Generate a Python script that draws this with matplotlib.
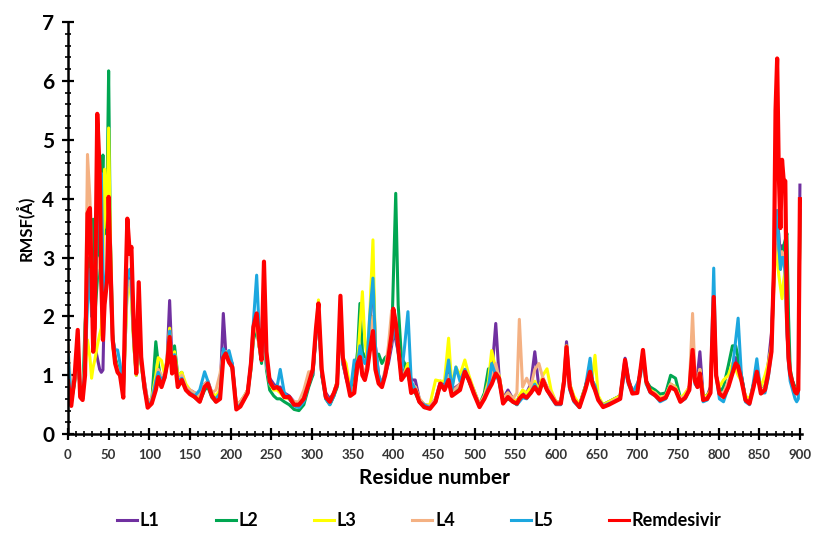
import matplotlib
matplotlib.use("Agg")
import matplotlib.pyplot as plt
from matplotlib.ticker import MultipleLocator

residues = [
    0, 4, 8, 12, 15, 18, 21, 24, 27, 29,
    31, 33, 36, 39, 41, 43, 45, 48, 50, 52,
    55, 58, 61, 64, 68, 71, 73, 76, 78, 81,
    84, 87, 90, 94, 98, 103, 108, 111, 115, 119,
    122, 125, 128, 131, 135, 140, 145, 150, 156, 162,
    168, 172, 177, 182, 187, 191, 194, 198, 202, 207,
    212, 217, 221, 225, 228, 232, 235, 238, 241, 244,
    248, 253, 257, 261, 266, 272, 278, 284, 290, 296,
    301, 305, 308, 312, 317, 322, 327, 331, 335, 338,
    342, 347, 352, 356, 359, 362, 365, 368, 371, 375,
    378, 382, 386, 390, 394, 398, 400, 403, 406, 410,
    414, 418, 422, 427, 432, 438, 445, 452, 458, 463,
    468, 472, 477, 482, 488, 493, 499, 506, 512, 517,
    521, 526, 530, 535, 541, 547, 552, 555, 559, 564,
    569, 574, 579, 584, 589, 594, 600, 606, 610, 613,
    617, 622, 629, 636, 642, 645, 648, 652, 658, 665,
    672, 679, 685, 689, 694, 700, 704, 707, 711, 716,
    722, 728, 735, 741, 747, 753, 759, 764, 768, 771,
    774, 777, 781, 786, 790, 794, 797, 801, 806, 812,
    817, 821, 824, 828, 833, 838, 843, 847, 852, 857,
    861, 865, 868, 870, 872, 874, 876, 878, 880, 882,
    884, 886, 888, 891, 894, 896, 898, 900,
]

L1 = [
    1.2, 0.6, 0.9, 1.5, 0.7, 0.65, 1.1, 2.8, 3.0, 2.2,
    2.9, 1.5, 1.3, 1.1, 1.05, 1.09, 2.4, 2.7, 3.0, 2.6,
    1.5, 1.3, 1.1, 1.05, 0.8, 2.0, 2.7, 2.6, 2.5, 1.6,
    1.1, 1.8, 1.2, 0.9, 0.55, 0.6, 0.85, 1.0, 0.9, 1.0,
    1.3, 2.27, 1.2, 1.37, 0.95, 1.0, 0.8, 0.75, 0.7, 0.65,
    0.85, 0.9, 0.7, 0.62, 0.7, 2.05, 1.4, 1.3, 1.2, 0.5,
    0.55, 0.65, 0.75, 1.2, 1.7, 2.0, 1.5, 1.3, 2.0, 1.2,
    0.95, 0.85, 0.8, 0.8, 0.7, 0.65, 0.55, 0.5, 0.65, 0.9,
    1.0, 1.7, 2.1, 1.0, 0.7, 0.6, 0.7, 0.9, 2.1, 1.2,
    0.95, 0.7, 0.75, 1.1, 1.4, 1.1, 1.0, 1.2, 1.8, 2.75,
    1.5, 1.0, 0.85, 1.0, 1.2, 1.5, 1.7, 1.6, 1.4, 1.0,
    1.1, 1.2, 0.92, 0.92, 0.6, 0.5, 0.48, 0.6, 0.9, 0.8,
    1.2, 0.75, 0.8, 0.85, 1.1, 0.95, 0.75, 0.5, 0.65, 0.85,
    1.0, 1.88, 1.0, 0.6, 0.75, 0.6, 0.55, 0.65, 0.7, 0.7,
    0.85, 1.40, 0.8, 0.95, 0.8, 0.7, 0.55, 0.55, 0.95, 1.57,
    0.85, 0.62, 0.5, 0.8, 1.1, 0.9, 0.8, 0.6, 0.5, 0.55,
    0.6, 0.65, 1.29, 0.95, 0.72, 0.75, 1.1, 1.35, 0.9, 0.75,
    0.72, 0.6, 0.65, 0.85, 0.8, 0.6, 0.65, 0.8, 1.3, 0.95,
    1.0, 1.40, 0.65, 0.65, 0.8, 2.2, 1.0, 0.75, 0.65, 0.85,
    1.1, 1.3, 1.2, 1.0, 0.62, 0.55, 0.85, 1.1, 0.75, 0.8,
    1.2, 1.71, 2.8, 3.5, 3.6, 3.4, 3.0, 3.2, 3.1, 2.8,
    1.8, 1.2, 1.0, 0.9, 0.75, 0.7, 0.8, 4.23,
]

L2 = [
    1.0, 0.55, 0.85, 1.4, 0.7, 0.6, 1.87, 2.5, 3.0, 2.4,
    3.65, 2.0, 2.6, 3.5, 4.0, 4.74, 3.4, 4.0, 6.17, 3.4,
    1.7, 1.3, 1.15, 1.0, 0.7, 1.8, 2.6, 2.5, 2.4, 1.5,
    1.0, 1.7, 1.2, 0.75, 0.5, 0.55, 1.57, 1.2, 0.85, 0.95,
    1.2, 1.6, 1.1, 1.5, 1.0, 1.05, 0.75, 0.7, 0.62, 0.55,
    0.75, 0.8, 0.62, 0.55, 0.65, 1.35, 1.4, 1.25, 1.1, 0.45,
    0.5, 0.6, 0.7, 1.1, 1.6, 1.8, 1.5, 1.2, 1.9, 1.1,
    0.75, 0.65, 0.6, 0.6, 0.55, 0.5, 0.42, 0.4, 0.5, 0.8,
    1.0, 1.7, 2.1, 1.0, 0.6, 0.5, 0.65, 0.8, 2.1, 1.2,
    1.0, 0.7, 0.9, 1.4, 2.22, 1.4, 1.31, 1.3, 1.5, 2.0,
    1.3, 1.36, 1.2, 1.3, 1.35, 1.6, 2.6, 4.09, 2.2, 1.3,
    1.2, 1.0, 0.8, 0.7, 0.55, 0.45, 0.45, 0.55, 0.85, 0.8,
    1.0, 0.7, 0.75, 0.8, 1.05, 0.9, 0.7, 0.5, 0.7, 1.11,
    0.95, 1.1, 0.9, 0.55, 0.6, 0.55, 0.5, 0.6, 0.65, 0.62,
    0.7, 0.85, 0.7, 0.9, 0.75, 0.65, 0.55, 0.55, 0.9, 1.4,
    0.8, 0.6, 0.5, 0.8, 1.1, 0.85, 0.75, 0.6, 0.5, 0.55,
    0.6, 0.65, 1.2, 0.9, 0.75, 0.75, 1.1, 1.35, 0.9, 0.8,
    0.75, 0.68, 0.7, 1.0, 0.95, 0.62, 0.65, 0.8, 1.2, 0.9,
    0.85, 1.0, 0.65, 0.65, 0.75, 2.2, 1.0, 0.7, 0.8, 1.17,
    1.5, 1.5, 1.3, 1.0, 0.6, 0.55, 0.85, 1.1, 0.75, 0.8,
    1.1, 1.5, 2.7, 3.3, 3.2, 3.0, 2.8, 3.0, 3.2, 3.3,
    3.41, 2.0, 1.1, 0.9, 0.8, 0.7, 0.75, 3.8,
]

L3 = [
    1.0, 0.6, 0.9, 1.4, 0.75, 0.65, 1.1, 1.6, 1.3, 0.95,
    1.14, 1.26, 1.5, 1.7, 1.8, 3.0, 4.5, 3.5, 5.2, 3.4,
    1.5, 1.2, 1.1, 1.0, 0.75, 1.8, 2.5, 2.5, 2.3, 1.5,
    1.0, 1.8, 1.15, 0.85, 0.55, 0.6, 1.0, 1.3, 1.25, 1.0,
    1.3, 1.8, 1.1, 1.4, 1.0, 1.05, 0.85, 0.75, 0.65, 0.6,
    0.8, 0.85, 0.7, 0.65, 0.75, 1.4, 1.4, 1.3, 1.15, 0.5,
    0.55, 0.65, 0.75, 1.15, 1.7, 1.9, 1.5, 1.3, 2.0, 1.2,
    0.85, 0.75, 0.75, 0.7, 0.62, 0.6, 0.5, 0.5, 0.6, 0.9,
    1.1, 1.8, 2.28, 1.1, 0.65, 0.55, 0.7, 0.9, 2.2, 1.3,
    1.2, 0.75, 0.8, 1.2, 1.8, 2.42, 1.6, 1.3, 2.0, 3.30,
    1.4, 0.95, 0.85, 1.0, 1.3, 1.6, 1.9, 1.8, 1.5, 1.05,
    1.05, 1.2, 0.85, 0.8, 0.6, 0.5, 0.5, 0.92, 0.9, 0.9,
    1.63, 0.8, 1.14, 1.0, 1.26, 1.0, 0.75, 0.5, 0.65, 0.9,
    1.42, 1.1, 1.0, 0.6, 0.7, 0.6, 0.55, 0.65, 0.75, 0.7,
    0.8, 0.9, 0.75, 1.0, 1.11, 0.75, 0.55, 0.55, 0.95, 1.5,
    0.85, 0.65, 0.5, 0.8, 1.0, 1.0, 1.34, 0.65, 0.5, 0.55,
    0.6, 0.65, 1.2, 0.9, 0.7, 0.75, 1.05, 1.3, 0.85, 0.75,
    0.7, 0.62, 0.65, 0.85, 0.8, 0.6, 0.7, 0.8, 1.1, 0.9,
    0.9, 1.1, 0.65, 0.65, 0.75, 2.1, 1.0, 0.8, 0.92, 1.0,
    1.2, 1.1, 1.0, 0.9, 0.65, 0.6, 0.85, 1.1, 0.8, 1.0,
    1.2, 1.5, 2.5, 3.2, 3.0, 2.7, 2.5, 2.3, 2.6, 2.8,
    2.0, 1.3, 1.0, 0.85, 0.75, 0.7, 0.75, 3.7,
]

L4 = [
    1.5, 0.7, 0.9, 1.4, 0.75, 0.7, 1.3, 4.75, 4.0, 3.0,
    2.0, 2.5, 3.0, 2.8, 2.5, 2.0, 2.4, 2.8, 3.5, 2.8,
    1.5, 1.25, 1.1, 1.05, 0.75, 1.9, 2.6, 2.6, 2.4, 1.6,
    1.05, 1.8, 1.2, 0.9, 0.55, 0.6, 0.9, 1.1, 1.0, 1.0,
    1.2, 1.7, 1.1, 1.35, 0.9, 1.0, 0.8, 0.75, 0.7, 0.65,
    0.85, 0.9, 0.7, 0.75, 1.03, 1.4, 1.4, 1.25, 1.15, 0.5,
    0.55, 0.65, 0.75, 1.15, 1.7, 1.9, 1.5, 1.25, 2.0, 1.15,
    0.9, 0.8, 0.8, 0.75, 0.65, 0.62, 0.55, 0.55, 0.75, 1.06,
    1.05, 1.7, 2.1, 1.05, 0.65, 0.55, 0.7, 0.9, 2.1, 1.2,
    1.0, 0.7, 0.8, 1.1, 1.4, 1.1, 1.0, 1.2, 1.6, 2.0,
    1.2, 0.9, 0.85, 1.1, 1.5, 2.1, 2.0, 1.8, 1.5, 1.0,
    1.05, 1.1, 0.85, 0.8, 0.6, 0.5, 0.48, 0.6, 0.85, 0.8,
    1.0, 0.72, 0.78, 0.85, 1.1, 0.95, 0.72, 0.5, 0.65, 0.85,
    0.95, 1.2, 0.95, 0.58, 0.7, 0.6, 0.7, 1.95, 0.8, 0.95,
    0.8, 1.1, 1.2, 0.95, 0.8, 0.7, 0.55, 0.55, 0.9, 1.45,
    0.8, 0.6, 0.48, 0.75, 1.0, 0.85, 0.75, 0.6, 0.48, 0.52,
    0.58, 0.62, 1.15, 0.9, 0.7, 0.72, 1.05, 1.3, 0.88, 0.72,
    0.7, 0.6, 0.65, 0.85, 0.78, 0.6, 0.65, 0.8, 2.05, 1.0,
    0.9, 1.1, 0.62, 0.62, 0.72, 2.0, 0.95, 0.7, 0.7, 0.9,
    1.05, 1.2, 1.1, 0.9, 0.6, 0.55, 0.8, 1.05, 0.72, 0.8,
    1.1, 1.5, 2.6, 3.3, 3.5, 3.2, 2.9, 3.1, 3.0, 2.8,
    1.8, 1.2, 1.0, 0.85, 0.75, 0.7, 0.75, 3.8,
]

L5 = [
    1.35, 0.6, 0.9, 1.5, 0.7, 0.65, 1.14, 2.2, 2.8, 2.0,
    2.3, 2.2, 3.5, 3.8, 4.43, 2.8, 2.4, 2.6, 3.2, 2.73,
    1.6, 1.43, 1.43, 1.2, 0.75, 2.1, 2.7, 2.8, 2.6, 1.6,
    1.1, 1.9, 1.2, 0.85, 0.5, 0.55, 0.9, 1.05, 0.9, 1.0,
    1.2, 1.75, 1.1, 1.35, 0.9, 0.95, 0.75, 0.7, 0.65, 0.75,
    1.06, 0.9, 0.65, 0.6, 0.7, 1.45, 1.35, 1.42, 1.2, 0.45,
    0.5, 0.6, 0.7, 1.25, 1.9, 2.70, 1.8, 1.3, 2.2, 1.2,
    0.85, 0.8, 0.8, 1.1, 0.7, 0.6, 0.48, 0.45, 0.55, 0.85,
    1.05, 1.7, 2.1, 1.05, 0.6, 0.5, 0.65, 0.85, 2.1, 1.2,
    1.0, 0.7, 1.26, 1.2, 1.5, 1.3, 1.2, 1.3, 2.0, 2.65,
    1.5, 1.0, 0.85, 1.05, 1.3, 1.6, 1.8, 1.7, 1.4, 1.0,
    1.5, 2.08, 0.9, 0.75, 0.55, 0.5, 0.45, 0.55, 0.85, 0.8,
    1.26, 0.75, 1.14, 0.9, 1.1, 0.9, 0.7, 0.48, 0.6, 0.8,
    1.2, 1.0, 0.9, 0.55, 0.62, 0.55, 0.5, 0.55, 0.62, 0.6,
    0.7, 0.85, 0.7, 0.9, 0.75, 0.62, 0.5, 0.5, 0.85, 1.4,
    0.75, 0.55, 0.45, 0.78, 1.29, 0.9, 0.83, 0.6, 0.48, 0.52,
    0.55, 0.6, 1.1, 0.85, 0.7, 0.86, 1.0, 1.3, 0.85, 0.7,
    0.65, 0.55, 0.6, 0.8, 0.75, 0.55, 0.6, 0.75, 1.2, 0.85,
    0.8, 1.0, 0.55, 0.58, 0.7, 2.82, 1.0, 0.6, 0.55, 0.8,
    1.1, 1.6, 1.97, 1.0, 0.55, 0.5, 0.9, 1.28, 0.7, 0.7,
    0.95, 1.4, 2.7, 3.6, 3.8, 3.2, 2.8, 3.0, 3.0, 2.7,
    1.8, 1.2, 0.9, 0.75, 0.6, 0.55, 0.6, 3.8,
]

remdesivir = [
    0.9, 0.48, 0.95, 1.77, 0.63, 0.58, 1.0, 3.75, 3.84, 2.7,
    1.4, 1.8, 5.44, 4.45, 2.6, 1.6, 2.2, 2.6, 4.03, 3.0,
    1.6, 1.2, 1.05, 1.0, 0.62, 2.6, 3.66, 3.06, 3.18, 1.77,
    1.03, 2.58, 1.31, 0.8, 0.45, 0.52, 0.75, 0.97, 0.8, 0.97,
    1.2, 1.65, 1.03, 1.31, 0.8, 0.92, 0.75, 0.68, 0.63, 0.55,
    0.8, 0.86, 0.65, 0.55, 0.6, 1.3, 1.37, 1.22, 1.14, 0.42,
    0.47, 0.6, 0.7, 1.2, 1.82, 2.05, 1.6, 1.26, 2.93, 1.4,
    0.9, 0.78, 0.8, 0.75, 0.63, 0.63, 0.5, 0.5, 0.6, 0.86,
    1.1, 1.8, 2.22, 1.1, 0.63, 0.55, 0.7, 0.85, 2.35, 1.3,
    1.0, 0.65, 0.7, 1.2, 1.31, 1.0, 0.92, 1.1, 1.4, 1.75,
    1.1, 0.86, 0.8, 1.0, 1.31, 1.7, 2.13, 1.9, 1.48, 0.92,
    1.0, 1.1, 0.7, 0.75, 0.55, 0.46, 0.43, 0.55, 0.86, 0.75,
    0.92, 0.65, 0.7, 0.75, 1.06, 0.92, 0.69, 0.46, 0.6, 0.75,
    0.85, 1.03, 0.95, 0.52, 0.63, 0.55, 0.52, 0.6, 0.66, 0.62,
    0.7, 0.8, 0.69, 0.92, 0.75, 0.65, 0.52, 0.52, 0.9, 1.48,
    0.8, 0.58, 0.46, 0.75, 1.06, 0.85, 0.75, 0.58, 0.46, 0.5,
    0.55, 0.6, 1.26, 0.9, 0.69, 0.7, 1.1, 1.43, 0.9, 0.72,
    0.66, 0.58, 0.62, 0.8, 0.75, 0.55, 0.62, 0.75, 1.43, 0.9,
    0.8, 1.03, 0.58, 0.6, 0.7, 2.33, 1.0, 0.69, 0.63, 0.8,
    1.03, 1.2, 1.15, 0.92, 0.58, 0.52, 0.8, 1.06, 0.69, 0.75,
    1.03, 1.4, 2.8, 5.5, 6.38, 4.43, 3.5, 4.66, 4.31, 4.3,
    2.0, 1.3, 1.03, 0.86, 0.72, 0.69, 0.75, 3.99,
]

series_names = ["L1", "L2", "L3", "L4", "L5", "Remdesivir"]
series_values = [L1, L2, L3, L4, L5, remdesivir]
series_colors = ["#7030A0", "#00A651", "#FFFF00", "#F4B183", "#1CA7DF", "#FF0000"]
series_widths = [2.2, 2.2, 2.2, 2.2, 2.2, 3.0]

x_ticks = list(range(0, 901, 50))
y_ticks = list(range(0, 8))

fig = plt.figure(figsize=(8.16, 5.36), dpi=100)
ax = fig.add_axes([0.0833, 0.190, 0.899, 0.769])

for name, vals, col, lw in zip(series_names, series_values, series_colors, series_widths):
    ax.plot(residues, vals, color=col, lw=lw, label=name, solid_joinstyle="round")

ax.set_xlim(0, 902)
ax.set_ylim(0, 7)
ax.set_xticks(x_ticks)
ax.set_yticks(y_ticks)
ax.xaxis.set_minor_locator(MultipleLocator(10))
ax.yaxis.set_minor_locator(MultipleLocator(0.2))

for s in ["top", "right"]:
    ax.spines[s].set_visible(False)
for s in ["left", "bottom"]:
    ax.spines[s].set_linewidth(1.8)
    ax.spines[s].set_color("black")

ax.tick_params(axis="both", which="major", direction="inout", length=8, width=1.6, color="black")
ax.tick_params(axis="both", which="minor", direction="inout", length=4, width=1.2, color="black")
ax.tick_params(axis="y", which="major", labelsize=15, pad=6)
ax.tick_params(axis="x", which="major", labelsize=9.5, pad=7, labelcolor="#333333")
for lab in ax.get_yticklabels():
    lab.set_fontweight("bold")
    lab.set_family("Lato")
for lab in ax.get_xticklabels():
    lab.set_family("Lato")
    lab.set_fontweight("bold")

ax.set_ylabel("RMSF(Å)", fontsize=12, fontweight="bold", family="Lato", labelpad=6)
ax.set_xlabel("Residue number", fontsize=15, fontweight="bold", family="Lato", labelpad=5)

leg = fig.legend(loc="center", bbox_to_anchor=(0.514, 0.028), ncol=6, frameon=False,
                 handlelength=1.1, handletextpad=0.15, columnspacing=3.1,
                 prop={"family": "Lato", "weight": "bold", "size": 13})
for h in leg.get_lines():
    h.set_linewidth(2.2)

fig.savefig("out.png", dpi=100)
